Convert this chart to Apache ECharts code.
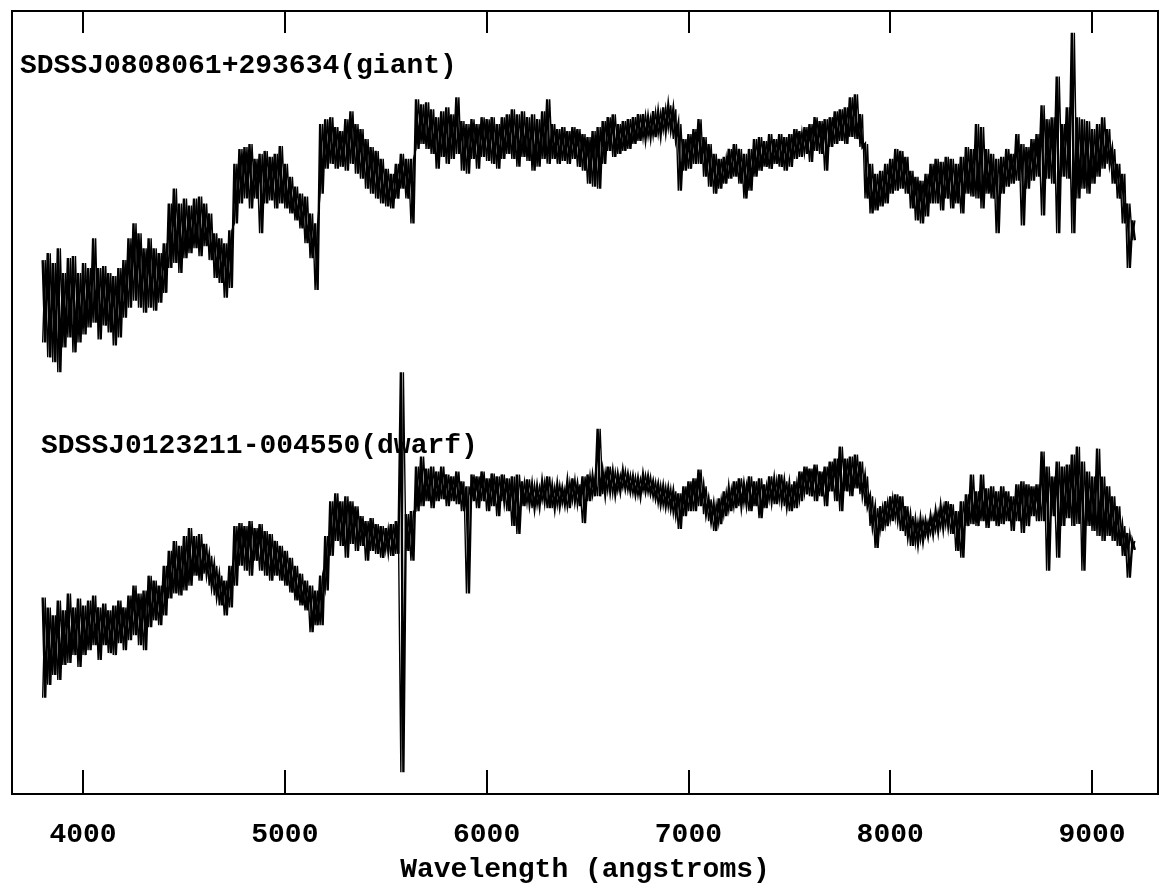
<!DOCTYPE html>
<html>
<head>
<meta charset="utf-8">
<title>SDSS spectra: giant vs dwarf</title>
<script src="https://cdn.jsdelivr.net/npm/echarts@6/dist/echarts.min.js"></script>
<style>
  html, body { margin: 0; padding: 0; background: #fff; }
  #chart { width: 1168px; height: 889px; }
</style>
</head>
<body>
<div id="chart"></div>
<script>
// Wavelength grid of the binned spectra (angstroms)
const WAVE_START = 3800;
const WAVE_STEP = 25;

// Upper and lower flux envelope in each 25 A bin, arbitrary flux units
// SDSSJ0808061+293634 (giant, offset upward)
const giantHigh = [
  538,545,535,550, 525,540,542,525, 535,530,560,530, 532,525,522,530,
  538,560,575,565, 550,560,550,545, 555,595,610,595, 600,593,600,602,
  595,585,565,560, 555,568,635,650, 652,655,640,645, 648,642,645,653,
  635,622,612,605, 602,585,575,675, 680,682,672,668, 680,688,675,670,
  660,652,648,640, 630,625,635,645, 640,640,700,695, 697,690,682,688,
  692,685,702,678, 675,680,675,682, 680,682,675,682, 685,690,685,688,
  682,685,680,688, 700,675,670,672, 668,672,670,665, 662,668,672,678,
  682,685,675,678, 680,682,685,685, 682,688,687,692, 694,690,675,660,
  665,670,680,662, 655,645,640,642, 650,655,650,645, 650,660,662,658,
  665,660,665,662, 665,670,668,672, 675,682,678,680, 682,688,690,692,
  702,705,685,655, 635,625,628,635, 640,650,648,642, 628,622,618,625,
  635,640,637,642, 640,635,642,652, 650,675,672,650, 645,640,642,650,
  645,665,655,652, 660,665,694,680, 682,723,675,692, 767,682,680,678,
  670,675,682,670, 650,635,625,595, 578
];
const giantLow = [
  455,440,435,425, 450,460,445,455, 463,470,475,458, 472,465,452,460,
  480,490,497,490, 485,490,487,495, 505,530,535,525, 540,545,550,542,
  552,538,520,515, 500,510,575,595, 600,590,600,565, 595,598,590,595,
  590,585,578,570, 555,540,508,605, 630,635,630,632, 628,635,625,620,
  610,605,600,595, 592,590,600,610, 600,575,650,655, 650,645,630,642,
  635,640,645,628, 625,640,630,642, 638,635,630,640, 645,640,632,642,
  638,628,632,640, 635,640,635,638, 635,640,632,628, 615,612,610,635,
  648,642,645,648, 650,655,658,660, 662,662,664,668, 670,660,608,628,
  630,635,635,622, 612,605,610,615, 620,622,615,600, 608,622,628,632,
  630,635,632,628, 632,640,642,645, 637,648,645,628, 652,655,658,655,
  662,660,652,600, 585,588,592,595, 605,608,610,605, 590,578,575,582,
  595,595,588,600, 590,595,585,605, 602,600,590,605, 600,565,605,612,
  615,618,573,610, 618,622,583,620, 615,565,622,620, 565,600,610,605,
  615,622,630,635, 615,600,575,530, 558
];

// SDSSJ0123211-004550 (dwarf)
const dwarfHigh = [
  198,188,180,195, 185,202,188,197, 190,195,200,188, 192,185,190,195,
  188,200,210,202, 205,220,215,210, 230,245,255,250, 260,268,260,262,
  252,240,230,220, 215,230,270,273, 270,275,268,272, 265,262,255,250,
  245,238,230,222, 215,210,205,220, 260,295,303,295, 300,295,290,280,
  275,278,272,270, 268,272,275,425, 282,285,330,340, 328,330,325,330,
  322,320,325,315, 310,322,320,325, 318,323,320,322, 318,320,322,315,
  317,312,310,315, 320,310,312,308, 315,318,312,320, 322,320,368,325,
  330,325,322,326, 322,320,318,322, 320,315,312,310, 308,305,303,310,
  315,318,327,310, 297,292,298,305, 308,315,318,312, 320,315,318,312,
  320,317,322,315, 312,315,325,330, 328,332,325,330, 335,338,350,338,
  340,342,335,320, 300,288,290,295, 300,302,300,290, 280,275,277,275,
  280,285,290,295, 292,285,295,302, 322,305,322,308, 310,305,310,305,
  300,312,315,312, 310,312,345,330, 320,335,330,332, 342,350,335,325,
  320,348,320,310, 300,290,270,263, 255
];
const dwarfLow = [
   97,110,120,115, 130,132,140,128, 140,145,150,135, 150,142,140,152,
  145,155,160,150, 145,168,175,170, 180,197,202,200, 205,210,220,215,
  222,210,200,190, 180,188,210,230, 225,220,235,225, 220,215,220,215,
  210,203,195,190, 185,163,170,170, 205,240,255,250, 238,252,245,250,
  235,245,242,238, 245,240,242, 22, 245,235,285,290, 295,288,295,297,
  290,295,292,285, 202,295,288,295, 285,290,280,295, 285,270,262,290,
  292,288,290,295, 288,288,290,292, 288,295,290,273, 295,300,300,302,
  305,302,305,308, 305,302,300,305, 303,298,292,290, 288,282,267,280,
  285,285,290,282, 275,265,272,280, 285,288,290,292, 285,290,278,288,
  295,292,295,290, 285,288,295,302, 300,295,300,290, 305,295,285,305,
  300,308,302,290, 270,248,265,270, 275,277,265,260, 250,252,255,260,
  262,265,268,270, 262,245,238,270, 272,270,275,268, 275,270,272,275,
  265,275,263,270, 280,275,275,225, 280,238,270,278, 270,272,225,270,
  265,260,255,260, 255,250,240,218, 246
];

// Tick positions and labels along the wavelength axis
const tickValues = [4000, 5000, 6000, 7000, 8000, 9000];
const tickLabels = ['4000', '5000', '6000', '7000', '8000', '9000'];

const WAVE_MIN = 3648;
const WAVE_MAX = 9327;
const FLUX_MAX = 789;

// Each bin is stroked from its upper to its lower envelope; a thinner
// stroke running the other way fills the band so the noisy trace reads
// as a dense, spiky line
function strokeDown(high, low) {
  const pts = [];
  for (let i = 0; i < high.length; i++) {
    const wl = WAVE_START + i * WAVE_STEP;
    pts.push([wl, high[i]]);
    pts.push([wl + WAVE_STEP / 2, low[i]]);
  }
  return pts;
}
function strokeUp(high, low) {
  const pts = [];
  for (let i = 0; i < high.length; i++) {
    const wl = WAVE_START + i * WAVE_STEP;
    pts.push([wl, low[i]]);
    pts.push([wl + WAVE_STEP / 2, high[i]]);
  }
  return pts;
}

const FONT = "'Liberation Mono', 'DejaVu Sans Mono', monospace";

const chart = echarts.init(document.getElementById('chart'), null, { renderer: 'canvas' });

function trace(name, data, width) {
  return {
    type: 'line', name: name, data: data,
    showSymbol: false, symbol: 'none', sampling: null,
    silent: true, animation: false,
    lineStyle: { color: '#000', width: width, join: 'miter' },
    xAxisIndex: 0, yAxisIndex: 0
  };
}

chart.setOption({
  animation: false,
  backgroundColor: '#fff',
  grid: {
    left: 12, top: 11, width: 1146, height: 789,
    show: true, borderColor: '#000', borderWidth: 2, backgroundColor: 'transparent'
  },
  xAxis: [
    {
      type: 'value', position: 'bottom',
      min: WAVE_MIN, max: WAVE_MAX,
      name: 'Wavelength (angstroms)',
      nameLocation: 'middle', nameGap: 62,
      nameTextStyle: { fontFamily: FONT, fontWeight: 'bold', fontSize: 28, color: '#000' },
      axisLine: { show: false },
      axisTick: {
        show: true, inside: true, length: 24,
        customValues: tickValues,
        lineStyle: { color: '#000', width: 2 }
      },
      axisLabel: {
        show: true, margin: 27,
        customValues: tickValues,
        formatter: (v) => tickLabels[tickValues.indexOf(v)],
        fontFamily: FONT, fontWeight: 'bold', fontSize: 28, color: '#000'
      },
      splitLine: { show: false }
    },
    {
      type: 'value', position: 'top',
      min: WAVE_MIN, max: WAVE_MAX,
      axisLine: { show: false },
      axisTick: {
        show: true, inside: true, length: 22,
        customValues: tickValues,
        lineStyle: { color: '#000', width: 2 }
      },
      axisLabel: { show: false },
      splitLine: { show: false }
    }
  ],
  yAxis: {
    type: 'value', min: 0, max: FLUX_MAX,
    axisLine: { show: false },
    axisTick: { show: false },
    axisLabel: { show: false },
    splitLine: { show: false }
  },
  graphic: [
    {
      type: 'text', left: 20, top: 52, silent: true,
      style: {
        text: 'SDSSJ0808061+293634(giant)',
        font: "bold 28px " + FONT, fill: '#000'
      }
    },
    {
      type: 'text', left: 41, top: 432, silent: true,
      style: {
        text: 'SDSSJ0123211-004550(dwarf)',
        font: "bold 28px " + FONT, fill: '#000'
      }
    }
  ],
  series: [
    trace('giant', strokeDown(giantHigh, giantLow), 2.4),
    trace('giant-fill', strokeUp(giantHigh, giantLow), 1.4),
    trace('dwarf', strokeDown(dwarfHigh, dwarfLow), 2.4),
    trace('dwarf-fill', strokeUp(dwarfHigh, dwarfLow), 1.4)
  ]
});
</script>
</body>
</html>
